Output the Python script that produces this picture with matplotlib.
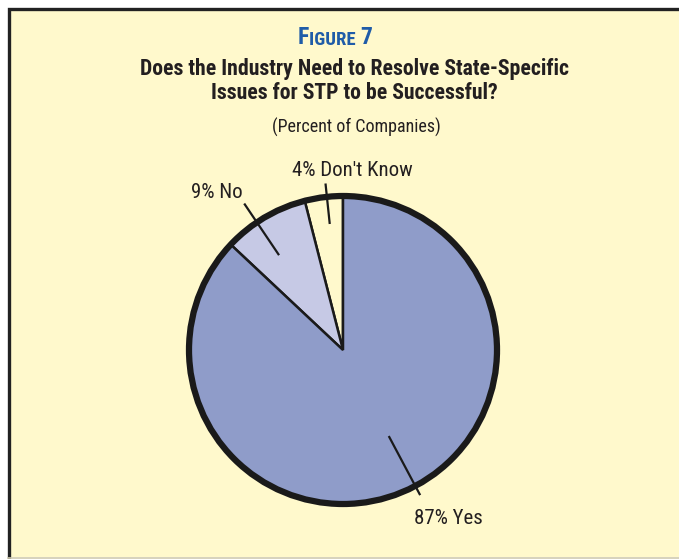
""" Figure 7 - STP state-specific issues pie """

import numpy as np
import matplotlib.pyplot as plt
from matplotlib.patches import Rectangle

# DATA
labels = ['87% Yes', '9% No', "4% Don't Know"]
values = [87, 9, 4]
colors = ['#8F9CC9', '#C6C9E5', '#FFF9CC']

title_fig = ['F', 'IGURE ', '7']
title_main = 'Does the Industry Need to Resolve State-Specific\nIssues for STP to be Successful?'
subtitle = '(Percent of Companies)'

W, H = 679, 559
bg = '#FFF9CC'
plt.rcParams['font.family'] = ['Roboto Condensed', 'DejaVu Sans Condensed', 'DejaVu Sans']
plt.rcParams['font.stretch'] = 'condensed'

fig = plt.figure(figsize=(W / 100, H / 100), dpi=100)
fig.patch.set_facecolor('white')
ax = fig.add_axes([0, 0, 1, 1])

# Pie: Yes clockwise from top, small slices counter-clockwise from top
cx, cy, r = 343, 209, 154
order_vals = values[::-1]  # Don't Know, No, Yes going counter-clockwise
order_cols = colors[::-1]
wedges, _ = ax.pie(order_vals, colors=order_cols, startangle=90, counterclock=True,
                   center=(cx, cy), radius=r, frame=True,
                   wedgeprops=dict(edgecolor='#1a1a1a', linewidth=1.8))
ax.set_xlim(0, W)
ax.set_ylim(0, H)
ax.set_aspect('equal')
ax.axis('off')
ring = plt.Circle((cx, cy), r, facecolor='none', edgecolor='#1a1a1a', lw=4.5, zorder=5)
ax.add_patch(ring)

# Background panel with dark left/top border
ax.add_patch(Rectangle((8, 2), W, H - 10, facecolor=bg, edgecolor='none', zorder=-5))
ax.plot([8.5, 8.5, W], [2, H - 8.5, H - 8.5], color='#222222', lw=2.4,
        solid_joinstyle='miter', zorder=1)
ax.plot([8, W], [1.5, 1.5], color='#CFCBB0', lw=1.2, zorder=1)

# Leader lines and labels: (angle, inner r, outer r, label r, label angle)
lead = {
    '87% Yes': (298, 0.64, 1.06, 1.29, -58.0),
    '9% No': (124, 0.75, 1.14, 1.31, 128.7),
    "4% Don't Know": (96, 0.83, 1.08, 1.17, 87.1),
}
for lab in labels:
    a, r0, r1, rl, al = lead[lab]
    t = np.deg2rad(a)
    ax.plot([cx + r0 * r * np.cos(t), cx + r1 * r * np.cos(t)],
            [cy + r0 * r * np.sin(t), cy + r1 * r * np.sin(t)],
            color='#1a1a1a', lw=1.6, zorder=6)
    tl = np.deg2rad(al)
    ax.text(cx + rl * r * np.cos(tl), cy + rl * r * np.sin(tl), lab,
            ha='center', va='center', fontsize=15, color='#231f20', zorder=7)

# "FIGURE 7" in small caps, chained piece by piece
blue = '#1F5CA8'
t1 = ax.text(298, H - 44, title_fig[0], ha='left', va='baseline', fontsize=17,
             color=blue, fontweight='bold')
t2 = ax.annotate(title_fig[1], xy=(1, 0), xycoords=t1, ha='left', va='bottom',
                 fontsize=13.5, color=blue, fontweight='bold')
ax.annotate(title_fig[2], xy=(1, 0), xycoords=t2, ha='left', va='bottom',
            fontsize=17, color=blue, fontweight='bold')

# Titles
ax.text(354, H - 81, title_main, ha='center', va='center', fontsize=15.7,
        color='#231f20', fontweight='bold', linespacing=1.1)
ax.text(356, H - 127, subtitle, ha='center', va='center', fontsize=13,
        color='#231f20')

fig.savefig('out.png', dpi=100, facecolor=fig.get_facecolor())
